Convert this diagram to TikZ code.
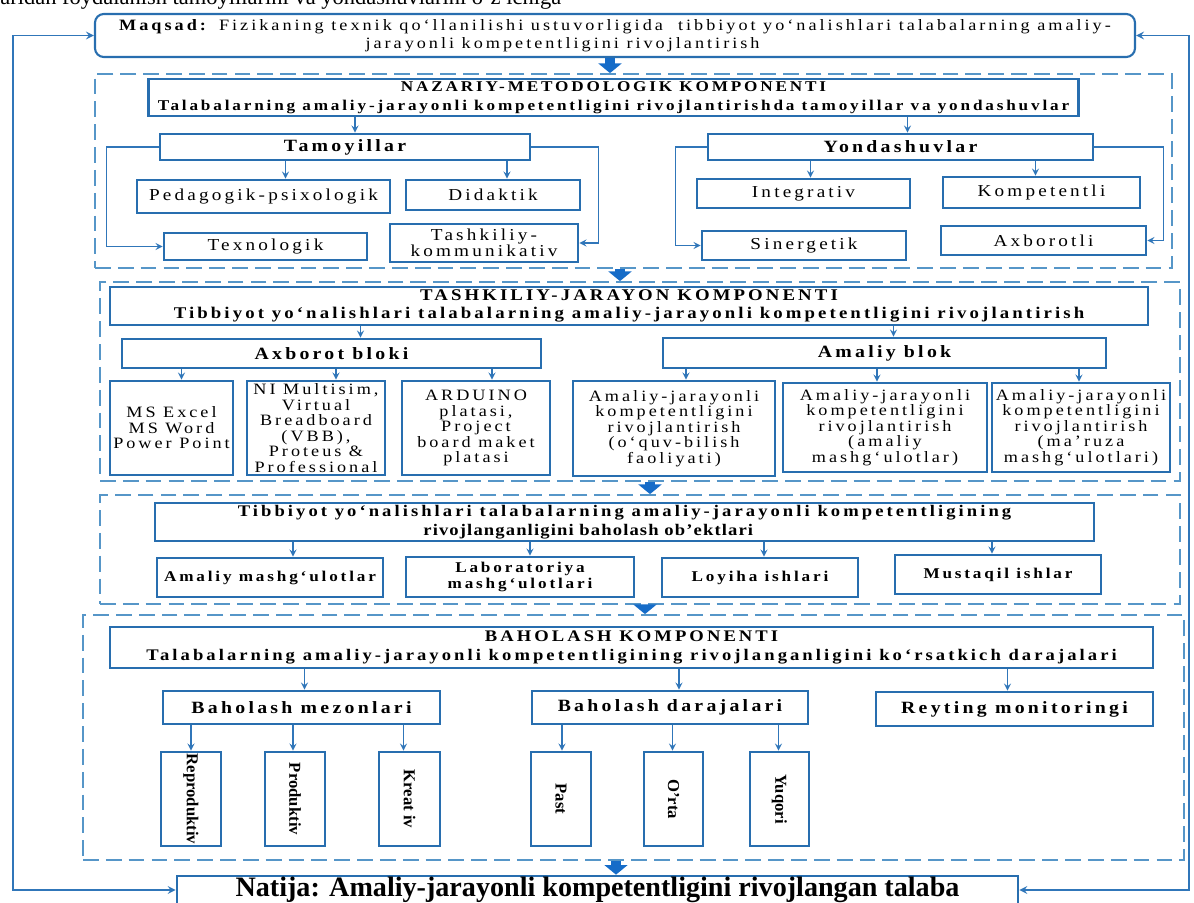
\documentclass[tikz,border=0pt]{standalone}
\usepackage{fontspec}
\setmainfont{Liberation Serif}
\newfontfamily\spc[LetterSpace=19, FakeStretch=1.15]{Liberation Serif}
\usetikzlibrary{calc,arrows.meta}
\tikzset{>=stealth}
\definecolor{penColor}{RGB}{40,110,175}
\definecolor{lineColor}{RGB}{48,118,185}
\definecolor{dashColor}{RGB}{86,150,200}
\definecolor{arrowColor}{RGB}{22,108,200}
\newcommand\pxu{0.02cm}
\tikzset{
  sz/.style 2 args={minimum width=#1*\pxu, minimum height=#2*\pxu},
  box/.style={draw=penColor, line width=1.5pt, fill=white, inner sep=0pt, align=center},
  hdr/.style={box, font=\spc\fontsize{#1}{10.5}\selectfont\bfseries}, hdr/.default=9.8,
  leaf/.style={box, font=\spc\fontsize{#1}{8.8}\selectfont}, leaf/.default=9,
  bleaf/.style={box, font=\spc\fontsize{8.5}{9.5}\selectfont\bfseries},
  vleaf/.style={box, font=\fontsize{9.5}{10}\selectfont\bfseries},
  frame/.style={draw=dashColor, line width=1pt, dash pattern=on 9pt off 4pt, inner sep=0pt},
  conn/.style={->, draw=lineColor, line width=0.8pt},
  fback/.style={<->, draw=lineColor, line width=1pt},
  bigarrow/.style={-{Triangle[width=13pt,length=5.5pt]}, draw=arrowColor, line width=5.5pt},
}
\begin{document}
\begin{tikzpicture}[x=\pxu, y=-\pxu]
\useasboundingbox (0,0) rectangle (1194,903);

% line of the page above, cut by the picture
\node[anchor=base west, inner sep=0pt, font=\fontsize{12.8}{14}\selectfont] (cuttext) at (0,4) {aridan foydalanish tamoyillarini va yondashuvlarini o‘z ichiga};

% dashed frames of the components
\node[frame, sz={1077}{194}] (sec1) at (633.5,171) {};
\node[frame, sz={1080}{199}] (sec2) at (640,381.5) {};
\node[frame, sz={1080}{109}] (sec3) at (640,549.5) {};
\node[frame, sz={1101}{245}] (sec4) at (633.5,737.5) {};

\node[box, rounded corners=5pt, line width=1.2pt, font=\spc\fontsize{9}{10.5}\selectfont, sz={1040}{43}] (maqsad) at (615,35.5) {\textbf{Maqsad:} Fizikaning texnik qo‘llanilishi ustuvorligida\ \ tibbiyot yo‘nalishlari talabalarning amaliy-\\jarayonli kompetentligini rivojlantirish\hspace*{2.1cm}};

% nazariy-metodologik
\node[hdr=8.5, sz={930}{37}] (nazariy) at (613.5,97.5) {NAZARIY-METODOLOGIK KOMPONENTI\\Talabalarning amaliy-jarayonli kompetentligini rivojlantirishda tamoyillar va yondashuvlar};
\node[hdr, sz={370}{26}] (tamoyil) at (345,147) {Tamoyillar};
\node[hdr, sz={385}{26}] (yondash) at (900.5,147) {Yondashuvlar};
\node[leaf=9.5, sz={253}{33}] (pedag) at (263.5,196.5) {Pedagogik-psixologik};
\node[leaf=9.5, sz={174}{30}] (didak) at (493,195) {Didaktik};
\node[leaf=9.5, sz={203}{27}] (texno) at (265.5,246.5) {Texnologik};
\node[leaf=9.5, sz={188}{38}] (tashk) at (484,243) {Tashkiliy-\\kommunikativ};
\node[leaf=9.5, sz={213}{29}] (integ) at (803.5,193.5) {Integrativ};
\node[leaf=9.5, sz={197}{31}] (kompet) at (1041.5,192.5) {Kompetentli};
\node[leaf=9.5, sz={204}{29}] (sinerg) at (804,245.5) {Sinergetik};
\node[leaf=9.5, sz={205}{29}] (axbtli) at (1043.5,240.5) {Axborotli};

% tashkiliy-jarayon
\node[hdr=9.3, sz={1038}{38}] (tashkj) at (629,306) {TASHKILIY-JARAYON KOMPONENTI\\Tibbiyot yo‘nalishlari talabalarning amaliy-jarayonli kompetentligini rivojlantirish};
\node[hdr, sz={419}{29}] (axbloki) at (331.5,353.5) {Axborot bloki};
\node[hdr, sz={443}{30}] (amblok) at (884.5,353) {Amaliy blok};
\node[leaf, sz={123}{94}] (msoff) at (171.5,428) {MS Excel\\MS Word\\Power Point};
\node[leaf, sz={138}{94}] (nimult) at (316,428) {NI Multisim,\\Virtual\\Breadboard\\(VBB),\\Proteus \&\\Professional};
\node[leaf, sz={148}{94}] (ardu) at (476,428) {ARDUINO\\platasi,\\Project\\board maket\\platasi};
\node[leaf, sz={202}{95}] (amal1) at (674,428.5) {Amaliy-jarayonli\\kompetentligini\\rivojlantirish\\(o‘quv-bilish\\faoliyati)};
\node[leaf, sz={204}{89}] (amal2) at (885,427.5) {Amaliy-jarayonli\\kompetentligini\\rivojlantirish\\(amaliy\\mashg‘ulotlar)};
\node[leaf, sz={178}{89}] (amal3) at (1081,427.5) {Amaliy-jarayonli\\kompetentligini\\rivojlantirish\\(ma’ruza\\mashg‘ulotlari)};

% baholash ob'ektlari
\node[hdr=9.2, sz={939}{38}] (baholob) at (624.5,522) {Tibbiyot yo‘nalishlari talabalarning amaliy-jarayonli kompetentligining\\{\addfontfeature{LetterSpace=7}rivojlanganligini baholash ob’ektlari}\hspace*{1.45cm}};
\node[bleaf, sz={226}{39}] (amashg) at (270,577.5) {Amaliy mashg‘ulotlar};
\node[bleaf, sz={228}{40}] (labor) at (520,577) {Laboratoriya\\mashg‘ulotlari};
\node[bleaf, sz={196}{39}] (loyiha) at (760,577.5) {Loyiha ishlari};
\node[bleaf, sz={206}{39}] (mustaq) at (998,574.5) {Mustaqil ishlar};

% baholash komponenti
\node[hdr=9.2, sz={1043}{41}] (bahkomp) at (631.5,647.5) {BAHOLASH KOMPONENTI\\Talabalarning amaliy-jarayonli kompetentligining rivojlanganligini ko‘rsatkich darajalari};
\node[hdr, sz={277}{33}] (mezon) at (301.5,707.5) {Baholash mezonlari};
\node[hdr, sz={276}{33}] (daraja) at (670,707.5) {Baholash darajalari};
\node[hdr, sz={277}{34}] (reyting) at (1014.5,709) {Reyting monitoringi};
\node[vleaf, sz={60}{94}] (repro) at (191,799) {\rotatebox{-90}{Reproduktiv}};
\node[vleaf, sz={60}{94}] (prod) at (295,799) {\rotatebox{-90}{Produktiv}};
\node[vleaf, sz={61}{94}] (kreat) at (409.5,799) {\rotatebox{-90}{Kreat iv}};
\node[vleaf, sz={60}{94}] (past) at (561,799) {\rotatebox{-90}{Past}};
\node[vleaf, sz={59}{94}] (orta) at (673.5,799) {\rotatebox{-90}{O’rta}};
\node[vleaf, sz={59}{94}] (yuqori) at (779.5,799) {\rotatebox{-90}{Yuqori}};

\node[box, font=\fontsize{16}{17}\selectfont\bfseries, sz={841}{28}] (natija) at (597.5,890) {Natija: Amaliy-jarayonli kompetentligini rivojlangan talaba};

% straight connectors, parent/child/shift
\foreach \p/\c/\d in {nazariy/tamoyil/10, nazariy/yondash/7, tamoyil/pedag/22, tamoyil/didak/14,
    yondash/integ/7, yondash/kompet/-6, tashkj/axbloki/29, tashkj/amblok/9,
    axbloki/msoff/10, axbloki/nimult/20, axbloki/ardu/16, amblok/amal1/12, amblok/amal2/-8, amblok/amal3/-2,
    baholob/amashg/23, baholob/labor/10, baholob/loyiha/4, baholob/mustaq/-6,
    bahkomp/mezon/3, bahkomp/daraja/9, bahkomp/reyting/-7,
    mezon/repro/0, mezon/prod/-2, mezon/kreat/-6, daraja/past/1, daraja/orta/-1, daraja/yuqori/-1}
  \draw[conn] ($(\p.south -| \c.north)+(\d,0)$) -- ($(\c.north)+(\d,0)$);

% side connectors
\draw[conn] (tamoyil.west) -- ++(-52,0) |- (texno.west);
\draw[conn] (tamoyil.east) -- ++(67,0) |- (tashk.east);
\draw[conn] (yondash.west) -- ++(-31,0) |- (sinerg.west);
\draw[conn] (yondash.east) -- ++(69,0) |- (axbtli.east);

% feedback lines
\coordinate (fbl) at (13,460);
\coordinate (fbr) at (1189,460);
\draw[fback] (maqsad.west) -| (fbl) |- (natija.west);
\draw[fback] (maqsad.east) -| (fbr) |- (natija.east);

% block arrows between components
\coordinate (b1) at (610,0);
\coordinate (b2) at (620,0);
\coordinate (b3) at (650,0);
\coordinate (b4) at (645,0);
\coordinate (b5) at (616,0);
\draw[bigarrow] (maqsad.south -| b1) -- (sec1.north -| b1);
\draw[bigarrow] (sec1.south -| b2) -- (sec2.north -| b2);
\draw[bigarrow] (sec2.south -| b3) -- (sec3.north -| b3);
\draw[bigarrow] (sec3.south -| b4) -- (sec4.north -| b4);
\draw[bigarrow] (sec4.south -| b5) -- (natija.north -| b5);
\end{tikzpicture}
\end{document}
